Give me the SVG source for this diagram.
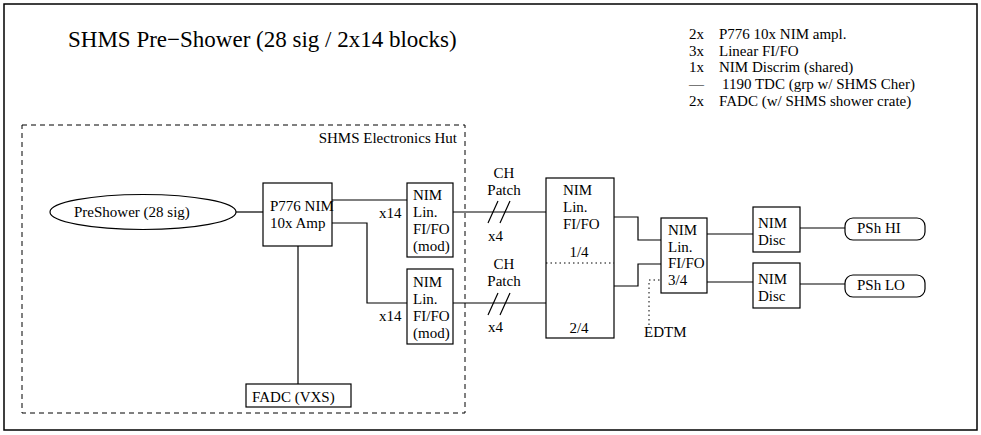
<svg xmlns="http://www.w3.org/2000/svg" width="981" height="435" viewBox="0 0 981 435">
<style>
text{font-family:"Liberation Serif","Times New Roman",serif;font-size:15px;fill:#000}
.title{font-size:23px}
.box{fill:#fff;stroke:#000;stroke-width:1.2}
.ln{fill:none;stroke:#000;stroke-width:1.2}
.dot{fill:none;stroke:#000;stroke-width:1;stroke-dasharray:1.5 3}
.dash{fill:none;stroke:#000;stroke-width:1;stroke-dasharray:5 4}
.c{text-anchor:middle}
</style>
<rect x="4" y="4" width="973" height="426" fill="#fff" stroke="#000" stroke-width="1.5"/>
<text class="title" x="68" y="47">SHMS Pre−Shower (28 sig / 2x14 blocks)</text>
<g id="legend">
<text x="689" y="39">2x</text><text x="719" y="39">P776 10x NIM ampl.</text>
<text x="689" y="56">3x</text><text x="719" y="56">Linear FI/FO</text>
<text x="689" y="72">1x</text><text x="719" y="72">NIM Discrim (shared)</text>
<text x="689" y="89">—</text><text x="722" y="89">1190 TDC (grp w/ SHMS Cher)</text>
<text x="689" y="106">2x</text><text x="719" y="106">FADC (w/ SHMS shower crate)</text>
</g>
<g id="hut">
<rect class="dash" x="22" y="125" width="443" height="288"/>
<text x="457" y="143" text-anchor="end">SHMS Electronics Hut</text>
</g>
<g id="connectors">
<path class="ln" d="M236,212H263"/>
<path class="ln" d="M332,200H407"/>
<path class="ln" d="M332,223H367V303H407"/>
<path class="ln" d="M298,246V384"/>
<path class="ln" d="M453,212H546"/>
<path class="ln" d="M453,303H546"/>
<path class="ln" d="M488,223L498,201M500,223L510,201"/>
<path class="ln" d="M488,315L498,293M500,315L510,293"/>
<path class="ln" d="M614,217H638V240H661"/>
<path class="ln" d="M614,286H638V264H661"/>
<path class="ln" d="M707,234H753"/>
<path class="ln" d="M707,282H753"/>
<path class="ln" d="M800,228H845"/>
<path class="ln" d="M800,284H845"/>
<path class="dot" d="M649,325V280H661"/>
<text x="379" y="218">x14</text>
<text x="379" y="321">x14</text>
<text class="c" x="504" y="178">CH</text>
<text class="c" x="504" y="195">Patch</text>
<text x="488" y="241">x4</text>
<text class="c" x="504" y="269">CH</text>
<text class="c" x="504" y="286">Patch</text>
<text x="488" y="332">x4</text>
</g>
<g id="preshower">
<ellipse class="box" cx="143" cy="212" rx="93" ry="17.5"/>
<text x="74" y="217">PreShower (28 sig)</text>
</g>
<g id="p776">
<rect class="box" x="263" y="183" width="69" height="63"/>
<text x="270" y="211">P776 NIM</text>
<text x="270" y="228">10x Amp</text>
</g>
<g id="fadc">
<rect class="box" x="246" y="384" width="105" height="23"/>
<text x="252" y="402">FADC (VXS)</text>
</g>
<g id="fifo1">
<rect class="box" x="407" y="183" width="46" height="74"/>
<text x="413" y="200">NIM</text><text x="413" y="217">Lin.</text><text x="413" y="234">FI/FO</text><text x="413" y="251">(mod)</text>
</g>
<g id="fifo2">
<rect class="box" x="407" y="269" width="46" height="75"/>
<text x="413" y="287">NIM</text><text x="413" y="304">Lin.</text><text x="413" y="321">FI/FO</text><text x="413" y="338">(mod)</text>
</g>
<g id="fifo-big">
<rect class="box" x="546" y="178" width="68" height="160"/>
<path class="dot" d="M546,263H614"/>
<text x="563" y="195">NIM</text><text x="563" y="212">Lin.</text><text x="563" y="229">FI/FO</text>
<text class="c" x="579" y="257">1/4</text>
<text class="c" x="579" y="333">2/4</text>
</g>
<g id="fifo-small">
<rect class="box" x="661" y="218" width="46" height="75"/>
<text x="668" y="235">NIM</text><text x="668" y="252">Lin.</text><text x="668" y="268">FI/FO</text><text x="668" y="285">3/4</text>
</g>
<g id="edtm"><text x="644" y="337">EDTM</text></g>
<g id="disc1">
<rect class="box" x="753" y="207" width="47" height="45"/>
<text x="758" y="228">NIM</text><text x="758" y="245">Disc</text>
</g>
<g id="disc2">
<rect class="box" x="753" y="263" width="47" height="45"/>
<text x="758" y="284">NIM</text><text x="758" y="301">Disc</text>
</g>
<g id="pshi">
<rect class="box" x="845" y="218" width="80" height="22" rx="8"/>
<text x="857" y="233">PSh HI</text>
</g>
<g id="pslo">
<rect class="box" x="845" y="275" width="80" height="22" rx="8"/>
<text x="857" y="290">PSh LO</text>
</g>
</svg>
